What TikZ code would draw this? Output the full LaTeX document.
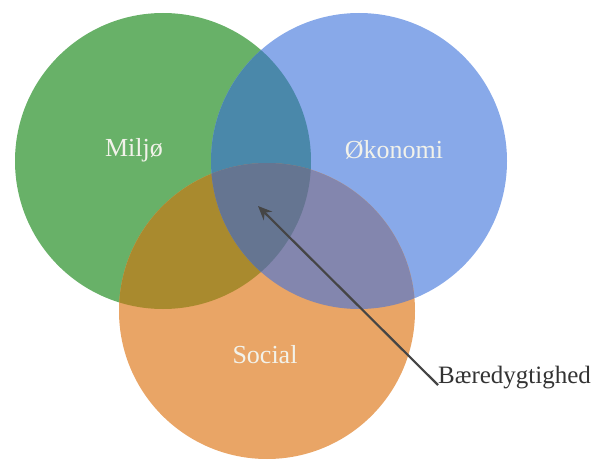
\documentclass[tikz,border=0pt]{standalone}
\usepackage{fontspec}
\setmainfont{Liberation Serif}
\usetikzlibrary{arrows.meta}
\definecolor{envG}{HTML}{68B168}
\definecolor{ecoB}{HTML}{88A9E9}
\definecolor{socO}{HTML}{E9A566}
\definecolor{envEco}{HTML}{4A88AA}
\definecolor{envSoc}{HTML}{A98A2E}
\definecolor{ecoSoc}{HTML}{8386AE}
\definecolor{allThree}{HTML}{657591}
\definecolor{labelW}{HTML}{F2F2EA}
\definecolor{arrowG}{HTML}{454545}
\tikzset{
  lbl/.style={text=labelW, font=\fontsize{26}{30}\selectfont, inner sep=0pt},
  callout/.style={text=black!80, font=\fontsize{25}{30}\selectfont, inner sep=0pt},
  pointer/.style={draw=arrowG, line width=2.2pt, -{Stealth[length=14pt,width=12pt]}}
}
\begin{document}
\begin{tikzpicture}[x=1pt,y=-1pt]
\useasboundingbox (0,0) rectangle (603,460);
\def\R{148}
\coordinate (cg) at (163,161);
\coordinate (cb) at (359,161);
\coordinate (co) at (267,311);
% single sets
\fill[envG] (cg) circle (\R);
\fill[ecoB] (cb) circle (\R);
\fill[socO] (co) circle (\R);
% pairwise overlaps
\begin{scope}\clip (cg) circle (\R); \fill[envEco] (cb) circle (\R); \end{scope}
\begin{scope}\clip (cg) circle (\R); \fill[envSoc] (co) circle (\R); \end{scope}
\begin{scope}\clip (cb) circle (\R); \fill[ecoSoc] (co) circle (\R); \end{scope}
% common core
\begin{scope}\clip (cg) circle (\R); \clip (cb) circle (\R); \fill[allThree] (co) circle (\R); \end{scope}
% labels
\node[lbl] (miljo) at (134,150) {Miljø};
\node[lbl] (okonomi) at (394,150) {Økonomi};
\node[lbl] (social) at (265,355) {Social};
\node[callout, anchor=west] (bd) at (438,378) {Bæredygtighed};
\coordinate (core) at (258,206);
\draw[pointer] ([yshift=-7pt]bd.west) -- (core);
\end{tikzpicture}
\end{document}
